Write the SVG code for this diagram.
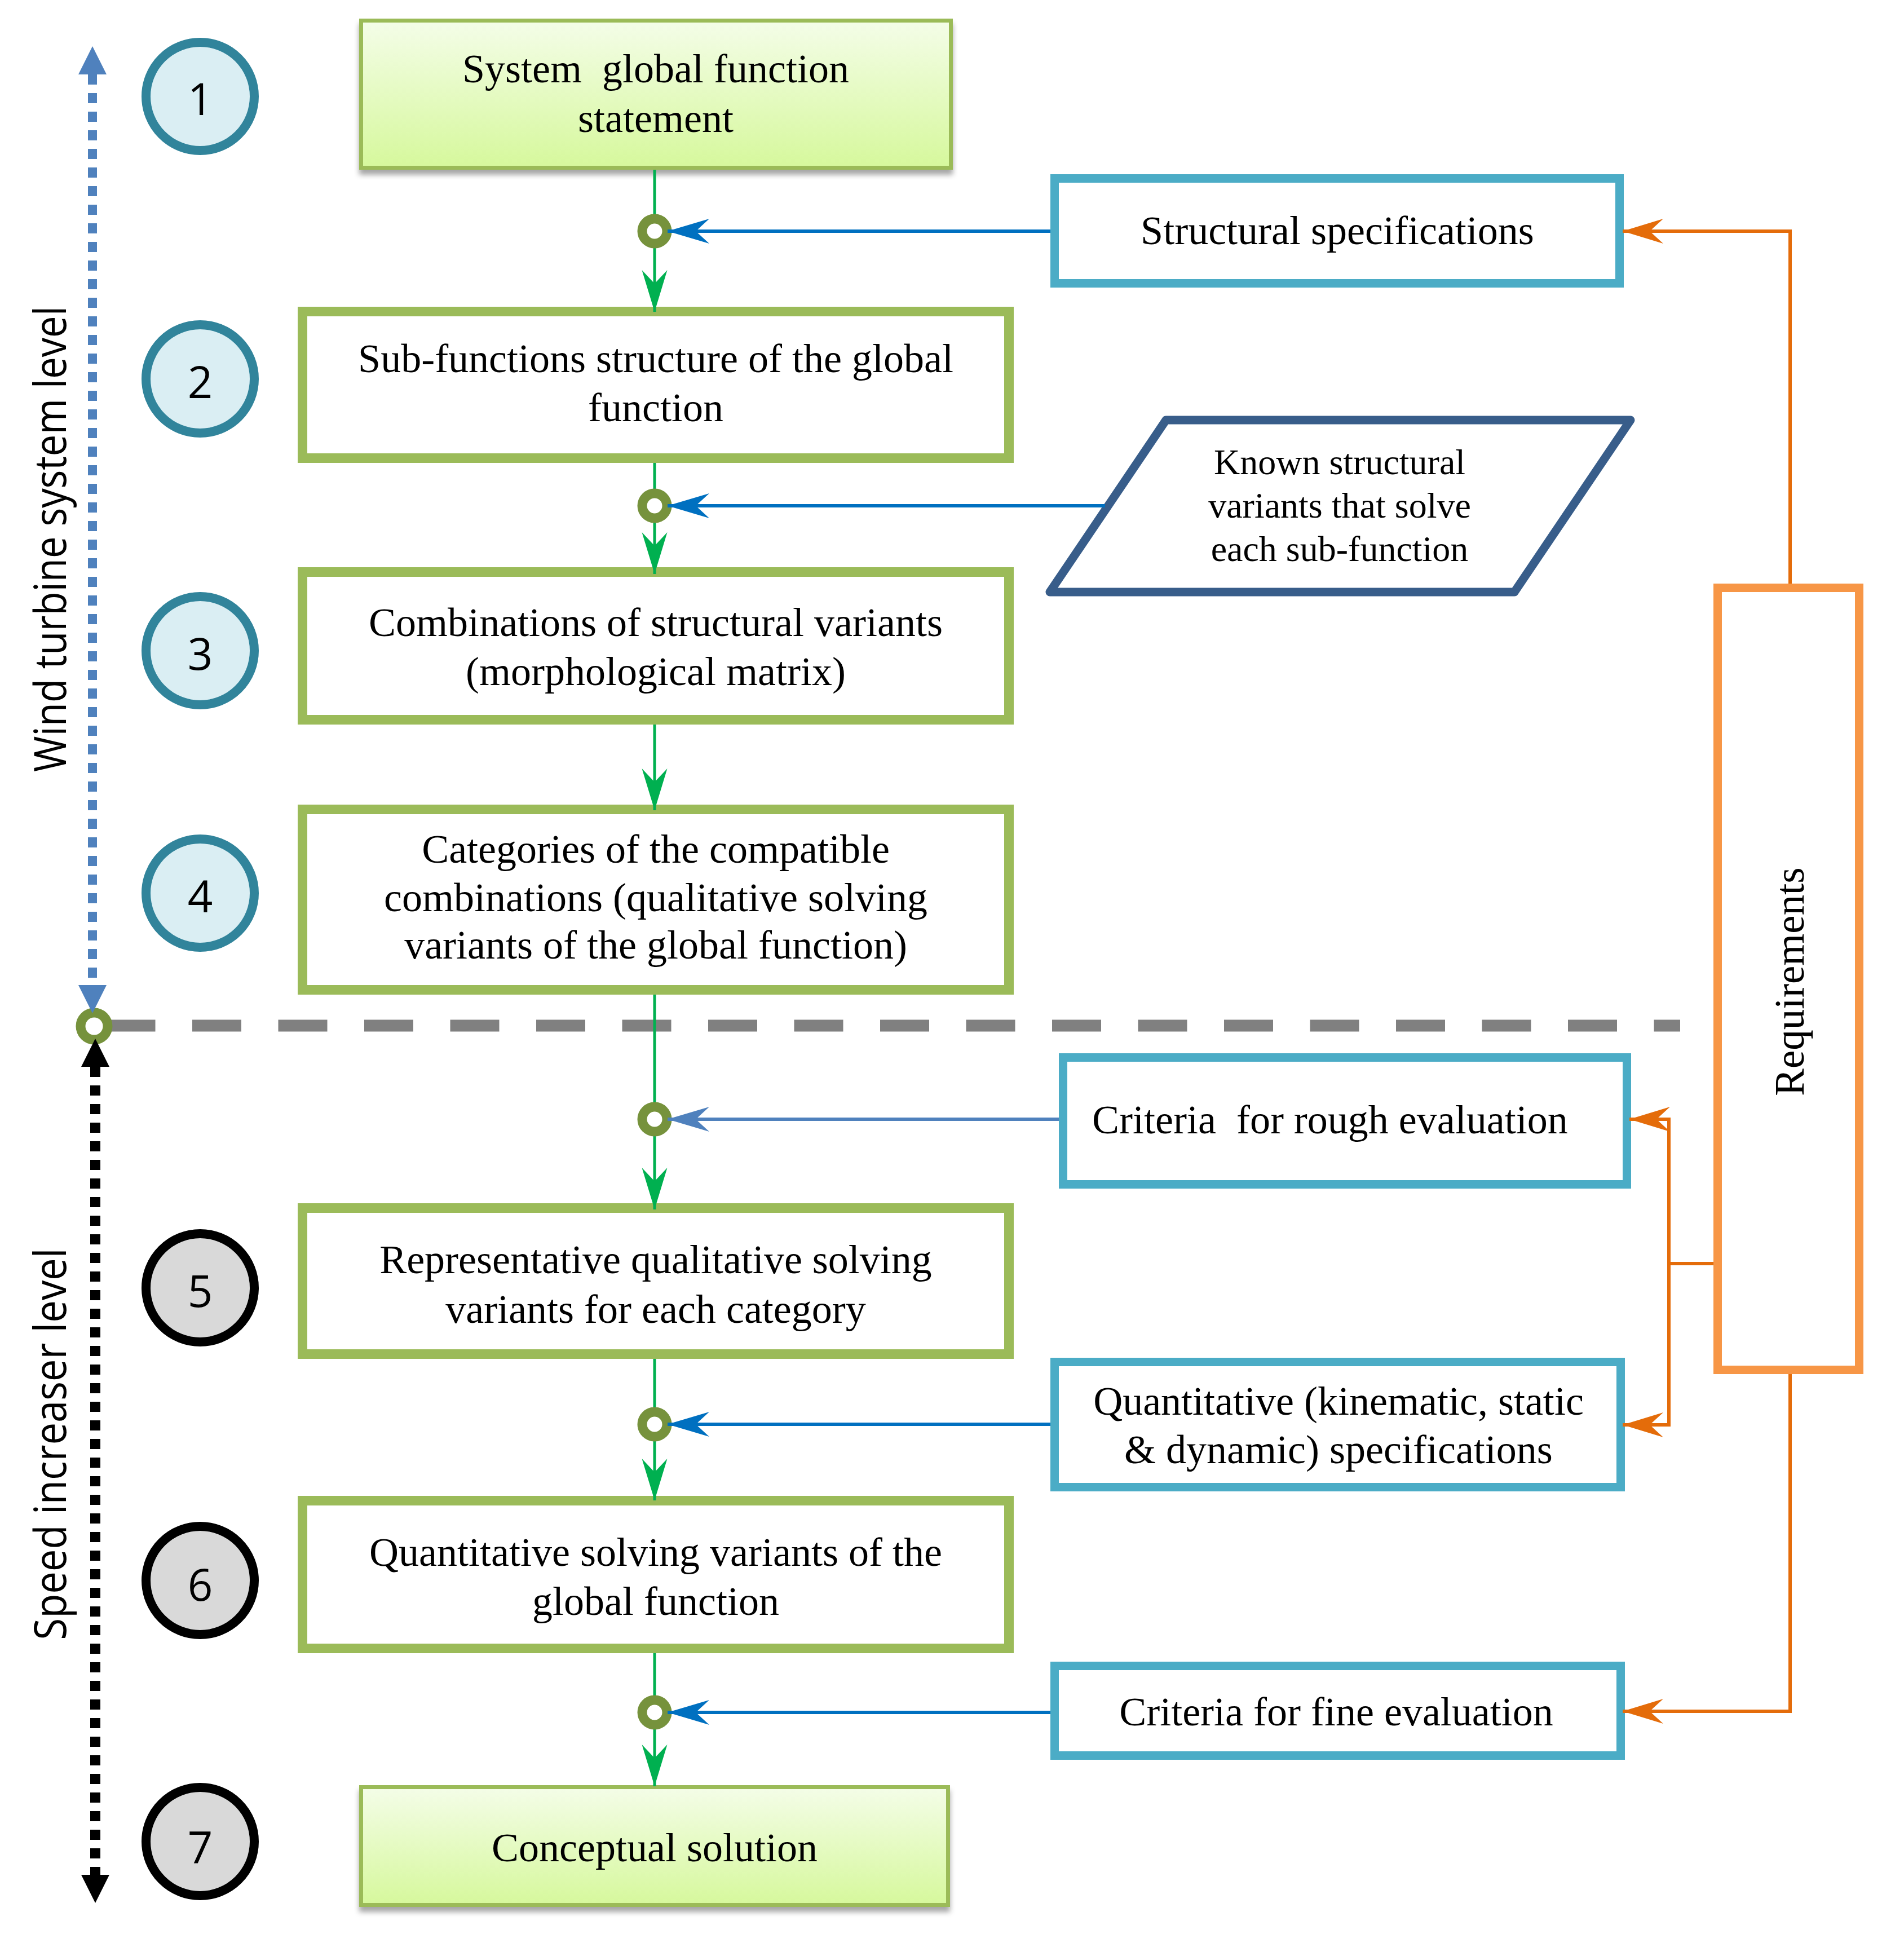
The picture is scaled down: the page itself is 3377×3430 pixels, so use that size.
<svg xmlns="http://www.w3.org/2000/svg" width="3377" height="3430" viewBox="0 0 3377 3430">
<defs>
<style>
.t{font-family:"Liberation Serif","Times New Roman",serif;font-size:72px;fill:#000;text-anchor:middle}
.tp{font-family:"Liberation Serif","Times New Roman",serif;font-size:64px;fill:#000;text-anchor:middle}
.num{font-family:"Open Sans","Noto Sans","DejaVu Sans",sans-serif;font-size:78px;fill:#000;text-anchor:middle}
.side{font-family:"Open Sans","Noto Sans","DejaVu Sans",sans-serif;font-size:78px;fill:#000;text-anchor:middle}
.gbox{fill:#fff;stroke:#9BBB59;stroke-width:17}
.lbox{fill:url(#gg);stroke:#9BBB59;stroke-width:7}
.bbox{fill:#fff;stroke:#4BACC6;stroke-width:15}
.c1{fill:#DAEEF3;stroke:#31849B;stroke-width:16}
.c2{fill:#D9D9D9;stroke:#000;stroke-width:16}
.gl{fill:none;stroke:#00B050;stroke-width:5;marker-end:url(#ahG)}
.bl{fill:none;stroke:#0070C0;stroke-width:6;marker-end:url(#ahB)}
.ol{fill:none;stroke:#E46C0A;stroke-width:6}
.oa{marker-end:url(#ahO)}
.jn{fill:#fff;stroke:#76923C;stroke-width:17}
</style>
<linearGradient id="gg" x1="0" y1="0" x2="0" y2="1">
<stop offset="0" stop-color="#F4FDE8"/>
<stop offset="1" stop-color="#D6F89C"/>
</linearGradient>
<filter id="sh" x="-5%" y="-10%" width="110%" height="130%">
<feDropShadow dx="0" dy="9" stdDeviation="5" flood-color="#000" flood-opacity="0.35"/>
</filter>
<marker id="ahG" markerUnits="userSpaceOnUse" viewBox="-76 -24 78 48" markerWidth="78" markerHeight="48" refX="0" refY="0" orient="auto"><path d="M0,0 L-74,-22.5 L-50,0 L-74,22.5 Z" fill="#00B050"/></marker>
<marker id="ahB" markerUnits="userSpaceOnUse" viewBox="-76 -24 78 48" markerWidth="78" markerHeight="48" refX="0" refY="0" orient="auto"><path d="M0,0 L-74,-22 L-50,0 L-74,22 Z" fill="#0070C0"/></marker>
<marker id="ahB2" markerUnits="userSpaceOnUse" viewBox="-76 -24 78 48" markerWidth="78" markerHeight="48" refX="0" refY="0" orient="auto"><path d="M0,0 L-74,-22 L-50,0 L-74,22 Z" fill="#4F81BD"/></marker>
<marker id="ahO" markerUnits="userSpaceOnUse" viewBox="-76 -24 78 48" markerWidth="78" markerHeight="48" refX="0" refY="0" orient="auto"><path d="M0,0 L-72,-22 L-48,0 L-72,22 Z" fill="#E46C0A"/></marker>
<marker id="triB" markerUnits="userSpaceOnUse" viewBox="-52 -27 54 54" markerWidth="54" markerHeight="54" refX="-50" refY="0" orient="auto-start-reverse"><path d="M0,0 L-50,-25 L-50,25 Z" fill="#4F81BD"/></marker>
<marker id="triK" markerUnits="userSpaceOnUse" viewBox="-52 -27 54 54" markerWidth="54" markerHeight="54" refX="-50" refY="0" orient="auto-start-reverse"><path d="M0,0 L-50,-25 L-50,25 Z" fill="#000"/></marker>
</defs>
<rect width="3377" height="3430" fill="#fff"/>

<g id="level-labels">
<text class="side" transform="translate(117,956) rotate(-90)" textLength="826" lengthAdjust="spacingAndGlyphs">Wind turbine system level</text>
<text class="side" transform="translate(117,2561) rotate(-90)" textLength="695" lengthAdjust="spacingAndGlyphs">Speed increaser level</text>
</g>

<g id="step-numbers">
<g id="n1"><circle class="c1" cx="355" cy="171" r="96"/><text class="num" x="355" y="204">1</text></g>
<g id="n2"><circle class="c1" cx="355" cy="672" r="96"/><text class="num" x="355" y="706">2</text></g>
<g id="n3"><circle class="c1" cx="355" cy="1154" r="96"/><text class="num" x="355" y="1188">3</text></g>
<g id="n4"><circle class="c1" cx="355" cy="1584" r="96"/><text class="num" x="355" y="1618">4</text></g>
<g id="n5"><circle class="c2" cx="355" cy="2284" r="96"/><text class="num" x="355" y="2318">5</text></g>
<g id="n6"><circle class="c2" cx="355" cy="2803" r="96"/><text class="num" x="355" y="2839">6</text></g>
<g id="n7"><circle class="c2" cx="355" cy="3266" r="96"/><text class="num" x="355" y="3304">7</text></g>
</g>

<g id="box1"><rect class="lbox" filter="url(#sh)" x="640.5" y="36.5" width="1046" height="261"/>
<text class="t" x="1163" y="146" style="white-space:pre">System  global function</text>
<text class="t" x="1163" y="234">statement</text></g>

<g id="box2"><rect class="gbox" x="536.5" y="552.5" width="1253" height="260"/>
<text class="t" x="1163" y="660">Sub-functions structure of the global</text>
<text class="t" x="1163" y="747">function</text></g>

<g id="box3"><rect class="gbox" x="536.5" y="1014.5" width="1253" height="262"/>
<text class="t" x="1163" y="1128">Combinations of structural variants</text>
<text class="t" x="1163" y="1215">(morphological matrix)</text></g>

<g id="box4"><rect class="gbox" x="536.5" y="1435.5" width="1253" height="320"/>
<text class="t" x="1163" y="1530">Categories of the compatible</text>
<text class="t" x="1163" y="1616">combinations (qualitative solving</text>
<text class="t" x="1163" y="1700">variants of the global function)</text></g>

<g id="box5"><rect class="gbox" x="536.5" y="2142.5" width="1253" height="259"/>
<text class="t" x="1163" y="2258">Representative qualitative solving</text>
<text class="t" x="1163" y="2346">variants for each category</text></g>

<g id="box6"><rect class="gbox" x="536.5" y="2661.5" width="1253" height="262"/>
<text class="t" x="1163" y="2777">Quantitative solving variants of the</text>
<text class="t" x="1163" y="2864">global function</text></g>

<g id="box7"><rect class="lbox" filter="url(#sh)" x="640.5" y="3169.5" width="1041" height="209"/>
<text class="t" x="1161" y="3301">Conceptual solution</text></g>

<g id="structural-specs"><rect class="bbox" x="1870.5" y="316.5" width="1002" height="186"/>
<text class="t" x="2372" y="433">Structural specifications</text></g>

<g id="known-variants"><polygon points="2068,745 2892,745 2686,1050 1862,1050" fill="#fff" stroke="#385D8A" stroke-width="15" stroke-linejoin="round"/>
<text class="tp" x="2376" y="841">Known structural</text>
<text class="tp" x="2376" y="918">variants that solve</text>
<text class="tp" x="2376" y="995">each sub-function</text></g>

<g id="rough-criteria"><rect class="bbox" x="1885.5" y="1875.5" width="1000" height="225"/>
<text class="t" x="1937" y="2010" style="text-anchor:start;white-space:pre">Criteria  for rough evaluation</text></g>

<g id="quantitative-specs"><rect class="bbox" x="1870.5" y="2415.5" width="1004" height="222"/>
<text class="t" x="2374" y="2509">Quantitative (kinematic, static</text>
<text class="t" x="2374" y="2595">&amp; dynamic) specifications</text></g>

<g id="fine-criteria"><rect class="bbox" x="1870.5" y="2954.5" width="1004" height="159"/>
<text class="t" x="2370" y="3060">Criteria for fine evaluation</text></g>

<g id="requirements"><rect x="3046.5" y="1042.5" width="251" height="1387" fill="#fff" stroke="#F79646" stroke-width="15"/>
<text x="0" y="0" transform="translate(3199,1741) rotate(-90)" style="font-family:'Liberation Serif','Times New Roman',serif;font-size:73px;text-anchor:middle">Requirements</text></g>

<g id="connectors">
<path d="M188.5,1819 H2980" fill="none" stroke="#808080" stroke-width="21" stroke-dasharray="87 65.5"/>
<path d="M1161,301 V553" class="gl"/>
<path d="M1161,821 V1018" class="gl"/>
<path d="M1161,1285 V1437" class="gl"/>
<path d="M1161,1764 V2145" class="gl"/>
<path d="M1161,2410 V2661" class="gl"/>
<path d="M1161,2932 V3168" class="gl"/>
<circle class="jn" cx="1161" cy="410" r="22"/>
<circle class="jn" cx="1161" cy="897" r="22"/>
<circle class="jn" cx="1161" cy="1985" r="22"/>
<circle class="jn" cx="1161" cy="2526" r="22"/>
<circle class="jn" cx="1161" cy="3037" r="22"/>
<circle class="jn" cx="167" cy="1820" r="24" stroke-width="18"/>
<path d="M1863,410 H1184" class="bl"/>
<path d="M1960,897 H1184" class="bl"/>
<path d="M1878,1985 H1184" fill="none" stroke="#4F81BD" stroke-width="6" marker-end="url(#ahB2)"/>
<path d="M1863,2526 H1184" class="bl"/>
<path d="M1863,3037 H1184" class="bl"/>
<path d="M3175,1035 V410 H2878" class="ol oa"/>
<path d="M3039,2241 H2960" class="ol"/>
<path d="M2960,2241 V1985 H2890" class="ol oa"/>
<path d="M2960,2241 V2527 H2878" class="ol oa"/>
<path d="M3175,2437 V3035 H2878" class="ol oa"/>
<path d="M164,132 V1747" fill="none" stroke="#4F81BD" stroke-width="16" stroke-dasharray="18 15" marker-start="url(#triB)" marker-end="url(#triB)"/>
<path d="M169,1892 V3325" fill="none" stroke="#000" stroke-width="18" stroke-dasharray="18 15" marker-start="url(#triK)" marker-end="url(#triK)"/>
</g>
</svg>
